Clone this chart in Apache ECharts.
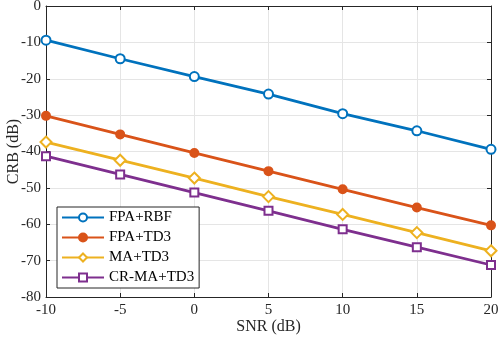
<!DOCTYPE html>
<html>
<head>
<meta charset="utf-8">
<script src="https://cdn.jsdelivr.net/npm/echarts@6/dist/echarts.min.js"></script>
<style>html,body{margin:0;padding:0;background:#fff}#c{width:500px;height:342px}</style>
</head>
<body>
<div id="c"></div>
<script>
const snr = [-10, -5, 0, 5, 10, 15, 20];
const fpaRbf = [-9.4, -14.5, -19.4, -24.2, -29.6, -34.3, -39.4];
const fpaTd3 = [-30.2, -35.3, -40.4, -45.4, -50.4, -55.4, -60.3];
const maTd3 = [-37.4, -42.4, -47.3, -52.4, -57.3, -62.3, -67.3];
const crMaTd3 = [-41.3, -46.3, -51.3, -56.3, -61.4, -66.3, -71.2];
const names = ['FPA+RBF', 'FPA+TD3', 'MA+TD3', 'CR-MA+TD3'];
const seriesData = [fpaRbf, fpaTd3, maTd3, crMaTd3];
const colors = ['#0072BD', '#D95319', '#EDB120', '#7E2F8E'];
const symbols = ['emptyCircle', 'circle', 'emptyDiamond', 'emptyRect'];
const sizes = [9, 8, 11, 8];

const font = 'Liberation Serif';
const axisCol = '#262626';
const chart = echarts.init(document.getElementById('c'), null, {renderer: 'canvas'});
const baseAxis = {
  axisLine: {show: true, onZero: false, lineStyle: {color: axisCol, width: 1}},
  axisTick: {show: true, inside: true, length: 4, lineStyle: {color: axisCol}},
  axisLabel: {color: axisCol, fontFamily: font, fontSize: 15},
  splitLine: {show: true, lineStyle: {color: '#e5e5e5', width: 1}}
};
chart.setOption({
  animation: false,
  backgroundColor: '#fff',
  grid: {left: 46, right: 9, top: 6, bottom: 45, containLabel: false, outerBoundsMode: 'none'},
  legend: {
    orient: 'vertical', left: 57, top: 207,
    data: names,
    backgroundColor: '#fff', borderColor: axisCol, borderWidth: 1,
    padding: [3, 5, 3, 4],
    itemWidth: 42, itemHeight: 10, itemGap: 5,
    textStyle: {fontFamily: font, fontSize: 15, color: '#000'}
  },
  xAxis: [
    Object.assign({}, baseAxis, {
      type: 'value', min: -10, max: 20, interval: 5,
      name: 'SNR (dB)', nameLocation: 'middle', nameGap: 30, nameMoveOverlap: false,
      nameTextStyle: {fontFamily: font, fontSize: 16, color: axisCol, verticalAlign: 'middle'},
      axisLabel: {color: axisCol, fontFamily: font, fontSize: 15, margin: 6}
    }),
    Object.assign({}, baseAxis, {
      type: 'value', min: -10, max: 20, interval: 5, position: 'top',
      axisLabel: {show: false}, splitLine: {show: false}
    })
  ],
  yAxis: [
    Object.assign({}, baseAxis, {
      type: 'value', min: -80, max: 0, interval: 10,
      name: 'CRB (dB)', nameLocation: 'middle', nameGap: 32, nameMoveOverlap: false,
      nameTextStyle: {fontFamily: font, fontSize: 16, color: axisCol, verticalAlign: 'middle'},
      axisLabel: {color: axisCol, fontFamily: font, fontSize: 15, margin: 5}
    }),
    Object.assign({}, baseAxis, {
      type: 'value', min: -80, max: 0, interval: 10, position: 'right',
      axisLabel: {show: false}, splitLine: {show: false}
    })
  ],
  series: seriesData.map((d, i) => ({
    name: names[i],
    type: 'line',
    xAxisIndex: 0, yAxisIndex: 0,
    data: snr.map((x, j) => [x, d[j]]),
    symbol: symbols[i],
    symbolSize: sizes[i],
    showAllSymbol: true,
    color: colors[i],
    lineStyle: {color: colors[i], width: 2.8},
    itemStyle: {color: colors[i], borderColor: colors[i], borderWidth: 2},
    z: 3 + i
  }))
});
</script>
</body>
</html>
